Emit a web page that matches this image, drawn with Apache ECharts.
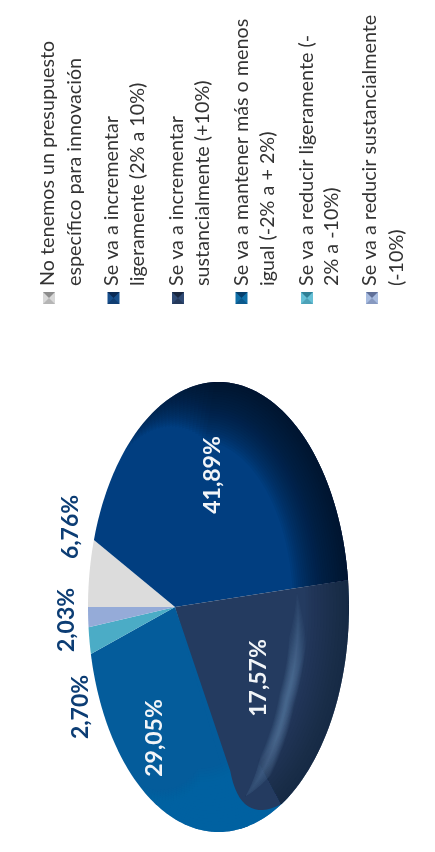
<!DOCTYPE html>
<html><head><meta charset="utf-8">
<style>html,body{margin:0;padding:0;background:#fff}#c{width:435px;height:852px}</style>
<script src="https://cdn.jsdelivr.net/npm/echarts@6/dist/echarts.min.js"></script>
</head><body><div id="c"></div>
<script>
// DATA (order follows the pie, clockwise from the gray wedge as seen in the picture)
var categories = [
  'No tenemos un presupuesto específico para innovación',
  'Se va a incrementar ligeramente (2% a 10%)',
  'Se va a incrementar sustancialmente (+10%)',
  'Se va a mantener más o menos igual (-2% a + 2%)',
  'Se va a reducir ligeramente (-2% a -10%)',
  'Se va a reducir sustancialmente (-10%)'
];
var values = [6.76, 41.89, 17.57, 29.05, 2.70, 2.03];
var valueLabels = ['6,76%', '41,89%', '17,57%', '29,05%', '2,70%', '2,03%'];
var legendLines = [
  ['No tenemos un presupuesto', 'específico para innovación'],
  ['Se va a incrementar', 'ligeramente (2% a 10%)'],
  ['Se va a incrementar', 'sustancialmente (+10%)'],
  ['Se va a mantener más o menos', 'igual (-2% a + 2%)'],
  ['Se va a reducir ligeramente (-', '2% a -10%)'],
  ['Se va a reducir sustancialmente', '(-10%)']
];

// STYLE / LAYOUT
var sliceColors = ['#dcdcdc', '#013e80', '#243b60', '#045c9b', '#4bacc6', '#95abd8'];
var markerLight = ['#d8d8d8', '#174f8c', '#2f4a74', '#1070a8', '#66c0d6', '#a8bce0'];
var markerDark = ['#8c8c8c', '#0a2a55', '#18263f', '#063f6c', '#2f7f95', '#5f6f98'];
var outerLabelColor = '#0c3d74';
var ell = {cx: 218.5, cy: 607, rx: 130.5, ry: 225, b: -0.333};
var legendCols = [[48, 75], [112, 138], [177, 203], [242, 268], [307, 332], [370, 397]];
var markerCols = [49, 113.5, 178, 241.5, 307, 372];
var labelAt = [[71, 527], [213, 475], [259, 678], [155, 738], [81, 707], [67, 620]];
var streakKnots = [[0.49, 0.78], [0.525, 0.789], [0.568, 0.80], [0.602, 0.834], [0.643, 0.884], [0.665, 0.91]];

var total = values.reduce(function (a, b) { return a + b; }, 0);
var cum = [0];
values.forEach(function (v, i) { cum.push(cum[i] + v / total); });

// disc -> picture: perspective map of a unit circle onto the tilted ellipse
function pt(f, r) {
  var t = f * 2 * Math.PI;
  var x = -Math.cos(t) * r, y = -Math.sin(t) * r;
  var d = 1 + ell.b * x;
  return [
    ell.cx + ell.rx * (x + ell.b) / d,
    ell.cy + ell.ry * y * Math.sqrt(1 - ell.b * ell.b) / d
  ];
}
function arc(f0, f1, r) {
  var n = Math.max(2, Math.ceil(Math.abs(f1 - f0) * 240)), out = [];
  for (var i = 0; i <= n; i++) out.push(pt(f0 + (f1 - f0) * i / n, r));
  return out;
}
function sector(f0, f1) { return [pt(0, 0)].concat(arc(f0, f1, 1)); }
function band(f0, f1, r0, r1) { return arc(f0, f1, r1).concat(arc(f1, f0, r0)); }
function poly(points, style) { return {type: 'polygon', shape: {points: points}, style: style, silent: true}; }
function streakR(f) {
  for (var i = 1; i < streakKnots.length; i++) {
    var a = streakKnots[i - 1], b = streakKnots[i];
    if (f <= b[0]) return a[1] + (f - a[0]) / (b[0] - a[0]) * (b[1] - a[1]);
  }
  return streakKnots[streakKnots.length - 1][1];
}
// a ribbon along the streak, tapering to points at both ends
function ribbon(f0, f1, halfW) {
  var top = [], bottom = [], n = 40;
  for (var i = 0; i <= n; i++) {
    var f = f0 + (f1 - f0) * i / n;
    var w = halfW * Math.min(1, Math.min(i, n - i) / 8);
    top.push(pt(f, streakR(f) - w));
    bottom.unshift(pt(f, streakR(f) + w));
  }
  return top.concat(bottom);
}

function sliceChildren() {
  var c = [];
  var navy = [cum[1], cum[2]], dark = [cum[2], cum[3]], blue = [cum[3], cum[4]];
  var rimGap = 0.036, i, r;
  c.push(poly(sector(cum[0], cum[1]), {fill: sliceColors[0]}));
  c.push(poly(sector(navy[0], navy[1]), {fill: sliceColors[1]}));
  c.push(poly(sector(blue[0], blue[1]), {fill: sliceColors[3]}));
  c.push(poly(sector(dark[1] - rimGap - 0.01, blue[0] + 0.01), {fill: sliceColors[3]}));
  c.push(poly(sector(cum[4], cum[5]), {fill: sliceColors[4]}));
  c.push(poly(sector(cum[5], cum[6]), {fill: sliceColors[5]}));
  // blue rim brightens toward the bottom, fading out along the rim
  for (i = 0; i < 24; i++) {
    r = 0.74 + i * 0.011;
    c.push(poly(band(blue[0] - rimGap, 0.71 + (r - 0.74) * 0.38, r, 1), {fill: 'rgba(15,115,200,0.03)'}));
  }
  // navy darkens toward the rim
  for (i = 0; i < 26; i++) {
    r = 0.76 + i * 0.0096;
    var start = Math.max(navy[0], 0.30 - i * 0.0055);
    c.push(poly(band(start, navy[1], r, 1), {fill: 'rgba(4,22,42,0.06)'}));
  }
  // dark wedge with rounded end
  var darkPath = [pt(0, 0)].concat(arc(dark[0], dark[1] - rimGap, 1));
  var p2 = pt(dark[1] - rimGap, 1), ctrl = pt(dark[1] + 0.008, 0.987), p0 = pt(dark[1], 0.783);
  for (i = 1; i <= 16; i++) {
    var s = i / 16, q = 1 - s;
    darkPath.push([q * q * p2[0] + 2 * q * s * ctrl[0] + s * s * p0[0],
                   q * q * p2[1] + 2 * q * s * ctrl[1] + s * s * p0[1]]);
  }
  c.push(poly(darkPath, {fill: sliceColors[2]}));
  // rim shade of the dark wedge
  for (i = 0; i < 14; i++) {
    r = 0.82 + i * 0.013;
    c.push(poly(band(dark[0], dark[1] - rimGap, r, 1), {fill: 'rgba(20,28,48,0.055)'}));
  }
  // soft bright streak
  for (i = 0; i < 12; i++) {
    var k = i / 11;
    c.push(poly(ribbon(0.49 + k * 0.05, Math.min(0.655, 0.668 - k * 0.06), 0.04 - k * 0.034), {fill: 'rgba(125,155,200,0.05)'}));
  }
  return c;
}

var graphics = [];
legendLines.forEach(function (lines, i) {
  var mx = markerCols[i] - 6, my = 292, m = 12;
  graphics.push({type: 'rect', x: mx, y: my, shape: {width: m, height: m}, style: {fill: markerLight[i]}, silent: true});
  graphics.push({type: 'polygon', shape: {points: [[mx, my], [mx + m, my], [mx + m / 2, my + m / 2]]}, style: {fill: markerDark[i]}, silent: true});
  graphics.push({type: 'polygon', shape: {points: [[mx, my + m], [mx + m, my + m], [mx + m / 2, my + m / 2]]},
    style: {fill: markerDark[i], opacity: 0.45}, silent: true});
  lines.forEach(function (line, j) {
    graphics.push({type: 'text', x: legendCols[i][j], y: 286, rotation: Math.PI / 2, silent: true,
      style: {text: line, fontFamily: 'Lato', fontSize: 19.75, fill: '#333333', textAlign: 'left', textVerticalAlign: 'middle'}});
  });
});

var option = {
  animation: false,
  backgroundColor: '#ffffff',
  graphic: graphics,
  series: [{
    type: 'custom',
    coordinateSystem: 'none',
    silent: true,
    data: [0],
    renderItem: function () { return {type: 'group', children: sliceChildren()}; },
    z: 1
  }, {
    type: 'custom',
    coordinateSystem: 'none',
    silent: true,
    data: values.map(function (v, i) { return i; }),
    renderItem: function (params, api) {
      var i = api.value(0), p = labelAt[i];
      return {type: 'text', x: p[0], y: p[1], rotation: Math.PI / 2, silent: true,
        style: {text: valueLabels[i], fontFamily: 'Lato', fontWeight: 'bold', fontSize: 23,
          fill: (i === 0 || i >= 4) ? outerLabelColor : '#f2f5f8', textAlign: 'center', textVerticalAlign: 'middle'}};
    },
    z: 2
  }]
};
var chart = echarts.init(document.getElementById('c'), null, {renderer: 'canvas'});
chart.setOption(option);
</script></body></html>
